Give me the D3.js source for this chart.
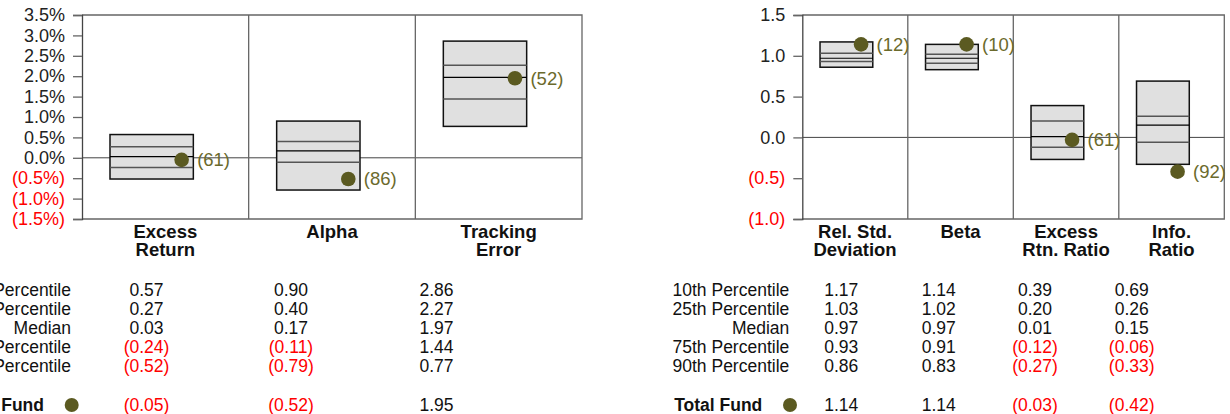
<!DOCTYPE html>
<html>
<head>
<meta charset="utf-8">
<script src="https://cdn.jsdelivr.net/npm/d3@7"></script>
<style>
  html, body { margin: 0; padding: 0; background: #fff; overflow: hidden; }
  svg { display: block; font-family: "Liberation Sans", Arial, Helvetica, sans-serif; }
</style>
</head>
<body>
<svg id="chart" width="1230" height="414"></svg>
<script>
// ---------- Data ----------
const rowLabels = ["10th Percentile", "25th Percentile", "Median", "75th Percentile", "90th Percentile"];
const fundLabel = "Total Fund";

// Left chart (percent)
const leftCategories = [["Excess", "Return"], ["Alpha"], ["Tracking", "Error"]];
const leftP10 = [0.57, 0.90, 2.86];
const leftP25 = [0.27, 0.40, 2.27];
const leftMedian = [0.03, 0.17, 1.97];
const leftP75 = [-0.24, -0.11, 1.44];
const leftP90 = [-0.52, -0.79, 0.77];
const leftFund = [-0.05, -0.52, 1.95];
const leftRank = [61, 86, 52];
const leftTicks = [3.5, 3.0, 2.5, 2.0, 1.5, 1.0, 0.5, 0.0, -0.5, -1.0, -1.5];

// Right chart (ratios)
const rightCategories = [["Rel. Std.", "Deviation"], ["Beta"], ["Excess", "Rtn. Ratio"], ["Info.", "Ratio"]];
const rightP10 = [1.17, 1.14, 0.39, 0.69];
const rightP25 = [1.03, 1.02, 0.20, 0.26];
const rightMedian = [0.97, 0.97, 0.01, 0.15];
const rightP75 = [0.93, 0.91, -0.12, -0.06];
const rightP90 = [0.86, 0.83, -0.27, -0.33];
const rightFund = [1.14, 1.14, -0.03, -0.42];
const rightRank = [12, 10, 61, 92];
const rightTicks = [1.5, 1.0, 0.5, 0.0, -0.5, -1.0];

// ---------- Styles ----------
const RED = "#ff0000";
const DOT = "#5b5a21";
const DOT_LABEL = "#6b6a2c";
const BOX_FILL = "#e0e0e0";
const svg = d3.select("#chart");

function fmtNum(v) {
  const s = Math.abs(v).toFixed(2);
  return v < 0 ? "(" + s + ")" : s;
}

function drawChart(cfg) {
  const g = svg.append("g");
  const n = cfg.categories.length;
  const y = d3.scaleLinear().domain([cfg.ticks[cfg.ticks.length - 1], cfg.ticks[0]])
    .range([cfg.bottom, cfg.top]);
  const x = d3.scaleBand().domain(d3.range(n)).range([cfg.left, cfg.right]).padding(0);
  const bw = x.bandwidth();

  // zero line
  g.append("line")
    .attr("x1", cfg.left).attr("x2", cfg.right)
    .attr("y1", y(0)).attr("y2", y(0))
    .attr("stroke", "#444").attr("stroke-width", 1);

  // dividers
  for (let i = 1; i < n; i++) {
    g.append("line")
      .attr("x1", x(i)).attr("x2", x(i))
      .attr("y1", cfg.top).attr("y2", cfg.bottom)
      .attr("stroke", "#666").attr("stroke-width", 1.3);
  }
  // frame (top, right, bottom)
  g.append("path")
    .attr("d", `M${cfg.left},${cfg.top}H${cfg.right}V${cfg.bottom}H${cfg.left}`)
    .attr("fill", "none").attr("stroke", "#666").attr("stroke-width", 1.3);

  // y axis
  const axis = d3.axisLeft(y).tickValues(cfg.ticks).tickSize(9).tickPadding(8)
    .tickFormat(cfg.tickFormat);
  const ag = g.append("g").attr("transform", `translate(${cfg.left},0)`).call(axis);
  ag.select(".domain").attr("stroke", "#444").attr("stroke-width", 1.3);
  ag.selectAll(".tick line").attr("stroke", "#666").attr("stroke-width", 1.3);
  ag.selectAll(".tick text")
    .attr("font-size", "18px")
    .attr("font-family", "Liberation Sans, Arial, sans-serif")
    .attr("fill", d => d < 0 ? RED : "#222");

  // boxes
  for (let i = 0; i < n; i++) {
    const bx = x(i) + 0.168 * bw;
    const w = 0.5 * bw;
    const yTop = y(cfg.p10[i]), yBot = y(cfg.p90[i]);
    g.append("rect")
      .attr("x", bx).attr("y", yTop).attr("width", w).attr("height", yBot - yTop)
      .attr("fill", BOX_FILL).attr("stroke", "#111").attr("stroke-width", 1.5);
    [[cfg.p25[i], "#555", 1.5], [cfg.p75[i], "#555", 1.5], [cfg.median[i], "#000", 1.2]].forEach(([v, c, sw]) => {
      g.append("line")
        .attr("x1", bx).attr("x2", bx + w)
        .attr("y1", y(v)).attr("y2", y(v))
        .attr("stroke", c).attr("stroke-width", sw);
    });
    const dx = bx + w - 11.7;
    g.append("circle")
      .attr("cx", dx).attr("cy", y(cfg.fund[i])).attr("r", 7.3)
      .attr("fill", DOT);
    g.append("text")
      .attr("x", dx + 15.5).attr("y", y(cfg.fund[i]))
      .attr("dy", "0.35em")
      .attr("font-size", "18.5px")
      .attr("fill", DOT_LABEL)
      .text("(" + cfg.rank[i] + ")");

    // category label
    const lt = g.append("text")
      .attr("x", x(i) + bw / 2).attr("y", cfg.bottom + 18.5)
      .attr("text-anchor", "middle")
      .attr("font-size", "18.5px").attr("font-weight", "bold").attr("fill", "#111");
    cfg.categories[i].forEach((line, k) => {
      lt.append("tspan").attr("x", x(i) + bw / 2).attr("dy", k === 0 ? 0 : 18).text(line);
    });
  }

  // table
  const rowY = d3.range(rowLabels.length).map(k => cfg.tableTop + k * 19);
  rowLabels.forEach((lab, k) => {
    g.append("text").attr("x", cfg.labelRight).attr("y", rowY[k])
      .attr("text-anchor", "end").attr("font-size", "17.5px").attr("fill", "#111").text(lab);
  });
  const fundY = cfg.fundY;
  g.append("text").attr("x", cfg.labelRight - 27).attr("y", fundY)
    .attr("text-anchor", "end").attr("font-size", "17.5px").attr("font-weight", "bold")
    .attr("fill", "#111").text(fundLabel);
  g.append("circle").attr("cx", cfg.labelRight + 0.7).attr("cy", fundY - 6)
    .attr("r", 7).attr("fill", DOT);

  const cols = [cfg.p10, cfg.p25, cfg.median, cfg.p75, cfg.p90];
  for (let i = 0; i < n; i++) {
    const cx = cfg.colX[i];
    cols.forEach((arr, k) => {
      g.append("text").attr("x", cx).attr("y", rowY[k]).attr("text-anchor", "middle")
        .attr("font-size", "17.5px").attr("fill", arr[i] < 0 ? RED : "#111")
        .text(fmtNum(arr[i]));
    });
    g.append("text").attr("x", cx).attr("y", fundY).attr("text-anchor", "middle")
      .attr("font-size", "17.5px").attr("fill", cfg.fund[i] < 0 ? RED : "#111")
      .text(fmtNum(cfg.fund[i]));
  }
}

drawChart({
  categories: leftCategories, p10: leftP10, p25: leftP25, median: leftMedian,
  p75: leftP75, p90: leftP90, fund: leftFund, rank: leftRank, ticks: leftTicks,
  tickFormat: d => (d < 0 ? "(" + Math.abs(d).toFixed(1) + "%)" : d.toFixed(1) + "%"),
  left: 82, right: 582, top: 15, bottom: 219,
  labelRight: 71, colX: [146.5, 291, 436.5], tableTop: 296, fundY: 411
});

drawChart({
  categories: rightCategories, p10: rightP10, p25: rightP25, median: rightMedian,
  p75: rightP75, p90: rightP90, fund: rightFund, rank: rightRank, ticks: rightTicks,
  tickFormat: d => (d < 0 ? "(" + Math.abs(d).toFixed(1) + ")" : d.toFixed(1)),
  left: 802.3, right: 1224.3, top: 15, bottom: 219,
  labelRight: 789.3, colX: [841.3, 938.7, 1035, 1131.7], tableTop: 296, fundY: 411
});
</script>
</body>
</html>
